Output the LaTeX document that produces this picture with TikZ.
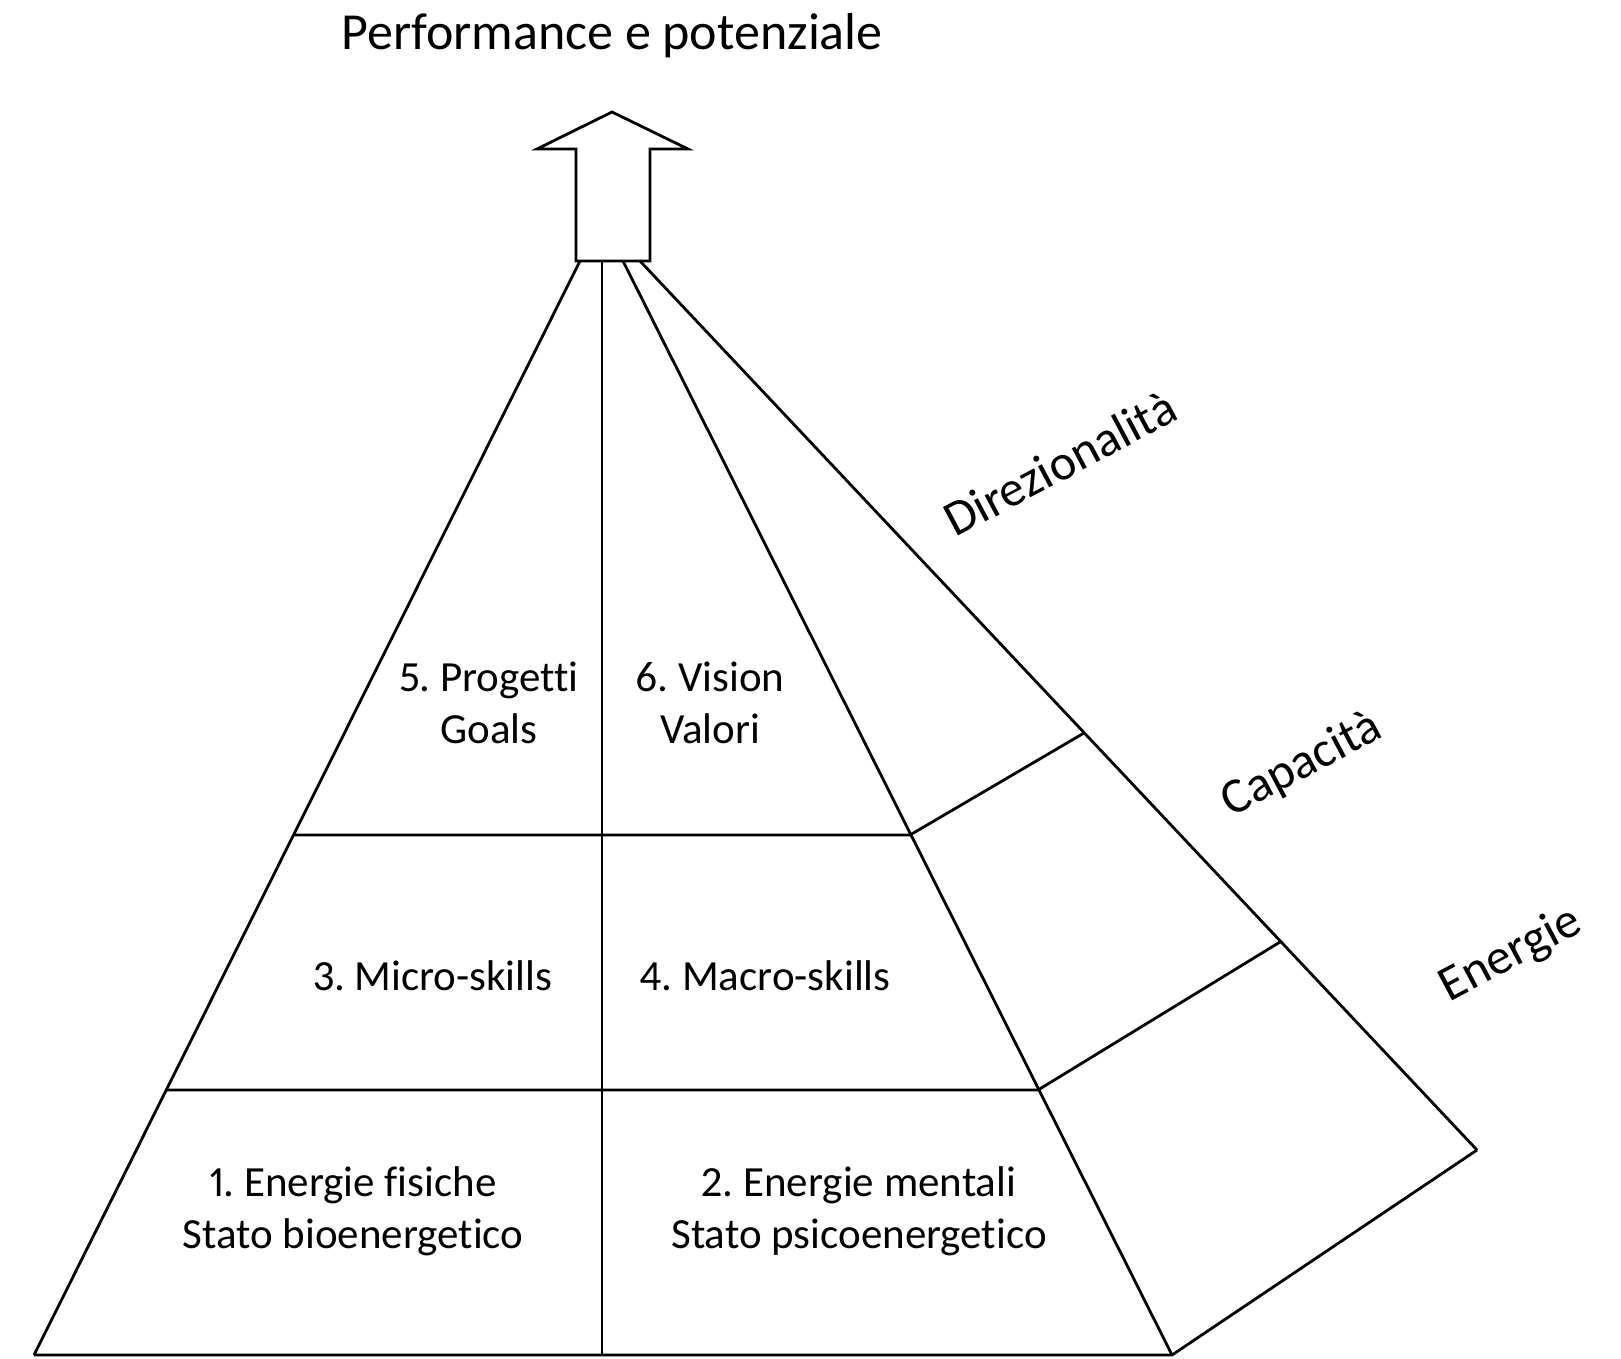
\documentclass[tikz,border=0pt]{standalone}
\usepackage{fontspec}
\setmainfont{Carlito}[Ligatures={NoCommon}, Numbers={Proportional}]
\frenchspacing
\begin{document}
\frenchspacing
\begin{tikzpicture}[x=1pt,y=-1pt,
  ln/.style={line width=2.8pt, line join=miter},
  lbl/.style={font=\fontsize{43}{52}\selectfont\frenchspacing, anchor=base, inner sep=0pt},
  side/.style={font=\fontsize{50}{60}\selectfont, rotate=28, inner sep=0pt},
  ttl/.style={font=\fontsize{52}{62}\selectfont, anchor=base, inner sep=0pt}]
\useasboundingbox (0,0) rectangle (1621,1358);
\fill[white] (0,0) rectangle (1621,1358);
% arrow
\coordinate (tip) at (612,112);
\coordinate (wl) at (537,149);
\coordinate (wr) at (688,149);
\coordinate (sl) at (576,149);
\coordinate (sr) at (650,149);
\coordinate (bl) at (576,261);
\coordinate (br) at (650,261);
\draw[ln] (tip) -- (wr) -- (sr) -- (br) -- (bl) -- (sl) -- (wl) -- cycle;
% pyramid lines
\coordinate (a1) at (580,261);  \coordinate (b1) at (34,1355);
\coordinate (a2) at (602,261);  \coordinate (b2) at (602,1355);
\coordinate (a3) at (623,261);  \coordinate (b3) at (1172,1355);
\coordinate (a4) at (640,261);  \coordinate (b4) at (1477,1150);
\coordinate (l1) at (294,835);  \coordinate (m1) at (910,835);
\coordinate (l2) at (166,1090); \coordinate (m2) at (1038,1090);
\coordinate (o1) at (1084,733); \coordinate (o2) at (1280,942);
\draw[ln] (a1) -- (b1);
\draw[ln] (a2) -- (b2);
\draw[ln] (a3) -- (b3);
\draw[ln] (a4) -- (b4);
\draw[ln] (b1) -- (b3) -- (b4);
\draw[ln] (l1) -- (m1) -- (o1);
\draw[ln] (l2) -- (m2) -- (o2);
% texts
\node[ttl] (title) at (612,49) {Performance e potenziale};
\node[lbl] (t5a) at (489,691) {5. Progetti};
\node[lbl] (t5b) at (489,743) {Goals};
\node[lbl] (t6a) at (710,691) {6. Vision};
\node[lbl] (t6b) at (710,743) {Valori};
\node[lbl] (t3) at (433,990) {3. Micro-skills};
\node[lbl] (t4) at (765,990) {4. Macro-skills};
\node[lbl] (t1a) at (353,1196) {1. Energie fisiche};
\node[lbl] (t1b) at (353,1248) {Stato bioenergetico};
\node[lbl] (t2a) at (859,1196) {2. Energie mentali};
\node[lbl] (t2b) at (859,1248) {Stato psicoenergetico};
\node[side] (dir) at (1060,463) {Direzionalità};
\node[side] (cap) at (1302,765) {Capacità};
\node[side] (ene) at (1511,955) {Energie};
\end{tikzpicture}
\end{document}
